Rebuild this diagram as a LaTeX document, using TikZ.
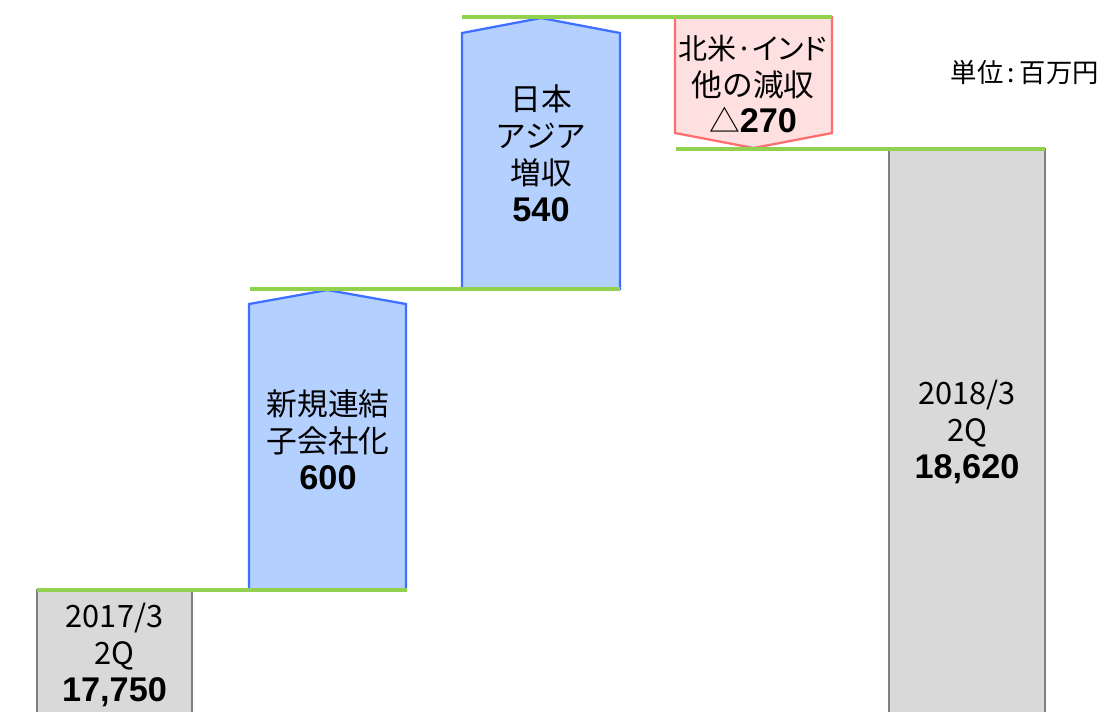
\documentclass[tikz,border=0pt]{standalone}
\usepackage{fontspec}
\setmainfont{Noto Sans CJK JP}
\newfontfamily\numfont{Liberation Sans}
\newfontfamily\paltfont[RawFeature=+palt]{Noto Sans CJK JP}
\definecolor{upfill}{RGB}{180, 208, 255}
\definecolor{updraw}{RGB}{64, 112, 255}
\definecolor{downfill}{RGB}{255, 224, 224}
\definecolor{downdraw}{RGB}{255, 110, 110}
\definecolor{barfill}{RGB}{217, 217, 217}
\definecolor{bardraw}{RGB}{128, 128, 128}
\definecolor{levelcolor}{RGB}{146, 208, 80}
\newcommand{\steparrow}[6]{
    \pgfmathsetmacro{\wid}{#3}
    \pgfmathsetmacro{\shoulder}{#4}
    \pgfmathsetmacro{\tip}{#5}
    \draw[#6] (#1, #2) -- ++(\wid, 0) -- ++(0, \shoulder) -- ++(-0.5*\wid, \tip)
    -- ++(-0.5*\wid, -\tip) -- cycle;
}
\newcommand{\amount}[1]{{\numfont\bfseries\fontsize{19.5}{21}\selectfont #1}}

\begin{document}
\begin{tikzpicture}[
        up/.style={line width=1.3pt,fill=upfill,draw=updraw},
        down/.style={line width=1.3pt,fill=downfill,draw=downdraw},
        bar/.style={line width=1.3pt,fill=barfill,draw=bardraw},
        level/.style={line width=2.3pt,draw=levelcolor},
        label/.style={align=center,font={\fontsize{17.5}{21}\selectfont}}
    ]
    \clip (0, 0) rectangle (22.12, -14.22);
    \draw[bar] (0.74, -14.6) rectangle (3.84, -11.8);
    \draw[bar] (17.78, -14.6) rectangle (20.9, -2.98);
    \steparrow{4.98}{-11.8}{3.14}{5.72}{0.28}{up}
    \steparrow{9.24}{-5.78}{3.16}{5.12}{0.30}{up}
    \steparrow{13.5}{-0.34}{3.14}{-2.32}{-0.30}{down}

    % levels
    \coordinate (l1a) at (0.74, -11.8);
    \coordinate (l1b) at (8.14, -11.8);
    \coordinate (l2a) at (5.0, -5.78);
    \coordinate (l2b) at (12.4, -5.78);
    \coordinate (l3a) at (9.24, -0.34);
    \coordinate (l3b) at (16.64, -0.34);
    \coordinate (l4a) at (13.52, -2.98);
    \coordinate (l4b) at (20.9, -2.98);
    \draw[level] (l1a) -- (l1b);
    \draw[level] (l2a) -- (l2b);
    \draw[level] (l3a) -- (l3b);
    \draw[level] (l4a) -- (l4b);

    \node[label] (start) at (2.29, -13.1) {2017/3\\2Q\\\amount{17,750}};
    \node[label] (newsub) at (6.56, -8.8) {新規連結\\子会社化\\\amount{600}};
    \node[label] (asia) at (10.82, -3.07) {日本\\アジア\\増収\\\amount{540}};
    \node[label] (others) at (15.06, -1.68) {{\paltfont\fontsize{16.5}{21}\selectfont 北米·インド}\\他の減収\\△\amount{270}};
    \node[label] (final) at (19.34, -8.64) {2018/3\\2Q\\\amount{18,620}};
    \node[anchor=east,font={\fontsize{15}{18}\selectfont}] (unit) at (22.1, -1.44) {単位\,:\,百万円};
\end{tikzpicture}
\end{document}
